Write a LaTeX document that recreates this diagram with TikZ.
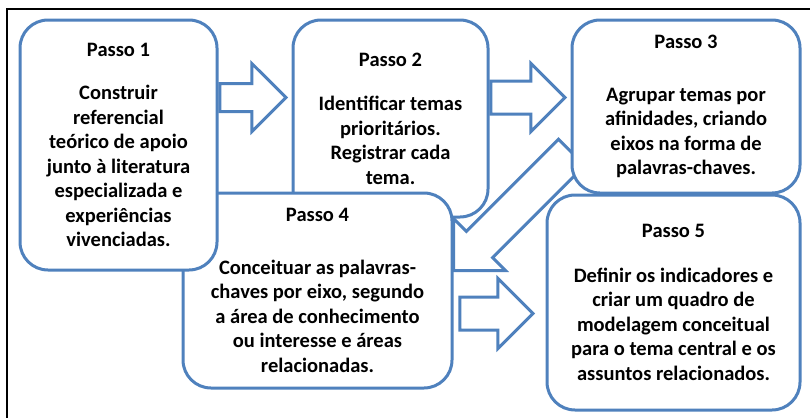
\documentclass[tikz,border=0pt]{standalone}
\usepackage{fontspec}
\setmainfont{Carlito}
\usepackage{tikz}
\usetikzlibrary{shapes,arrows}
\definecolor{wordblue}{RGB}{79,129,189}
\tikzstyle{passo} = [draw=wordblue, line width=3pt, fill=white, rounded corners=28pt,
    align=center, inner sep=0pt, font=\bfseries\fontsize{20.5}{24.5}\selectfont]
\tikzstyle{seta} = [single arrow, draw=wordblue, line width=3pt, fill=white,
    single arrow tip angle=90, inner sep=0pt, text height=0pt, text depth=0pt, anchor=tip]

\begin{document}
\begin{tikzpicture}[x=1pt,y=-1pt]
  \useasboundingbox (0,0) rectangle (810,418);
  \draw[line width=2pt] (810,9) -| (7,418);

  \node[seta, minimum height=66pt, inner ysep=12.5pt, single arrow head extend=20pt] (seta12) at (288,97.5) {};
  \node[seta, minimum height=74pt, inner ysep=15pt, single arrow head extend=17.5pt] (seta23) at (567,97.5) {};
  \node[seta, minimum height=73pt, inner ysep=15pt, single arrow head extend=18.5pt] (seta45) at (535,313.5) {};

  \node[passo, minimum width=195pt, minimum height=197pt] (passo2) at (390.5,118.5)
    {Passo 2\\[20pt] Identificar temas\\ prioritários.\\ Registrar cada\\ tema.};
  \node[passo, minimum width=269pt, minimum height=195pt] (passo4) at (317.5,290.5)
    {Passo 4\\[28pt] Conceituar as palavras-\\ chaves por eixo, segundo\\ a área de conhecimento\\ ou interesse e áreas\\ relacionadas.};
  \node[passo, minimum width=197pt, minimum height=250pt] (passo1) at (118.5,145)
    {Passo 1\\[19pt] Construir\\ referencial\\ teórico de apoio\\ junto à literatura\\ especializada e\\ experiências\\ vivenciadas.};

  \node[seta, minimum height=167pt, inner ysep=17pt, single arrow head extend=18.3pt, rotate=-135] (seta34) at (452,272) {};

  \node[passo, minimum width=253pt, minimum height=215pt] (passo5) at (673.5,302.5)
    {Passo 5\\[20pt] Definir os indicadores e\\ criar um quadro de\\ modelagem conceitual\\ para o tema central e os\\ assuntos relacionados.};
  \node[passo, minimum width=228pt, minimum height=173pt] (passo3) at (686,106.5)
    {Passo 3\\[28pt] Agrupar temas por\\ afinidades, criando\\ eixos na forma de\\ palavras-chaves.};

\end{tikzpicture}
\end{document}
